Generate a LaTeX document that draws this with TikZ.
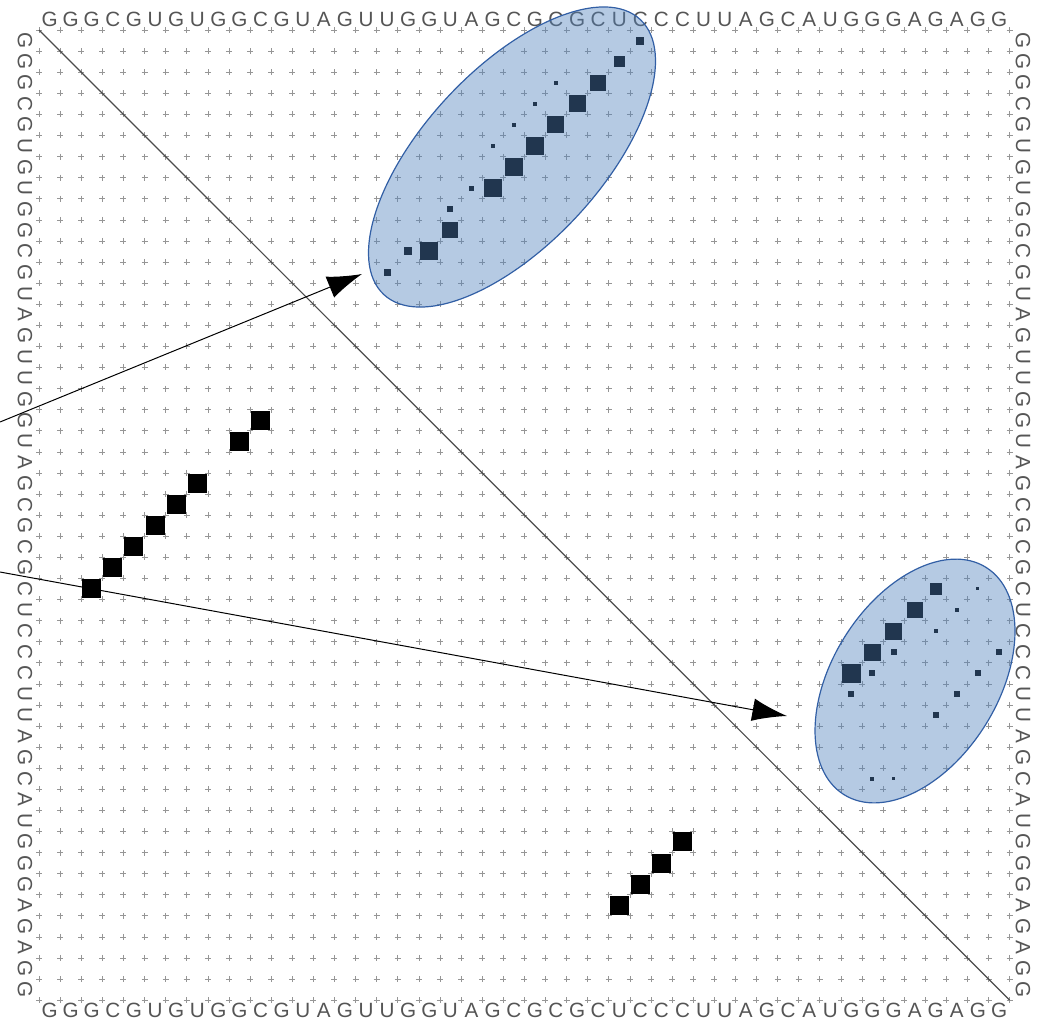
\documentclass[tikz,border=0pt]{standalone}
\usepackage{fontspec}
\newfontfamily\seqfont{Liberation Sans}
\usetikzlibrary{shapes.geometric,arrows.meta}
\definecolor{ellfill}{RGB}{79,129,189}
\definecolor{elldraw}{RGB}{50,95,165}
\definecolor{crossgray}{RGB}{150,150,150}
\definecolor{seqgray}{RGB}{85,85,85}
\newcommand\dsq[3]{\fill[dotsq] ({39+21.1*(#1+0.5)-#3/2},{30+21.09*(#2+0.5)-#3/2}) rectangle ++(#3,#3);}
\begin{document}
\begin{tikzpicture}[x=0.75pt,y=-0.75pt,
  seqlabel/.style={font=\seqfont\fontsize{15.5}{16}\selectfont, text=seqgray, inner sep=0pt},
  crossmark/.style={draw=crossgray, line width=0.45pt},
  dotsq/.style={fill=black, draw=none},
  hilite/.style={ellipse, draw=elldraw, line width=0.9pt, fill=ellfill, fill opacity=0.42, draw opacity=1, inner sep=0pt},
  pointer/.style={draw=black, line width=0.75pt, -{Latex[length=26pt,width=17pt]}},
  diagline/.style={draw=gray!60!black, line width=0.9pt}
]
\useasboundingbox (0,0) rectangle (1038,1021);
\def\seq{G,G,G,C,G,U,G,U,G,G,C,G,U,A,G,U,U,G,G,U,A,G,C,G,C,G,C,U,C,C,C,U,U,A,G,C,A,U,G,G,G,A,G,A,G,G}
% grid crosses
\foreach \k in {0,...,46}{
  \foreach \l in {0,...,46}{
    \draw[crossmark] ({39+21.1*\k-3},{30+21.09*\l}) -- ++(6,0)
                     ({39+21.1*\k},{30+21.09*\l-3}) -- ++(0,6);
  }
}
% sequence labels
\foreach \b [count=\n from 0] in \seq {
  \node[seqlabel] (t\n) at ({39+21.1*(\n+0.5)},19) {\b};
  \node[seqlabel] (b\n) at ({39+21.1*(\n+0.5)},1010) {\b};
  \node[seqlabel, rotate=-90] (l\n) at (25,{30+21.09*(\n+0.5)}) {\b};
  \node[seqlabel, rotate=-90] (r\n) at (1023,{30+21.09*(\n+0.5)}) {\b};
}
% diagonal
\coordinate (c0) at (39,30);
\coordinate (c1) at (1009.6,1000.1);
\draw[diagline] (c0) -- (c1);
% MFE structure (lower left)
\foreach \c/\r in {2/26,3/25,4/24,5/23,6/22,7/21,9/19,10/18,27/41,28/40,29/39,30/38}{
  \dsq{\c}{\r}{19}
}
% base pair probabilities (upper right)
\foreach \c/\r/\s in {18/10/18,19/9/16,21/7/18,22/6/18,23/5/18,24/4/17,25/3/17,26/2/16,27/1/11,28/0/8,
  16/11/7,17/10/8,19/8/6,20/7/5,21/5/4,22/4/4,23/3/4,24/2/4,
  42/26/12,41/27/16,40/28/17,39/29/17,38/30/19,
  44/26/3,43/27/4,42/28/4,40/29/6,45/29/6,39/30/6,44/30/6,38/31/6,43/31/6,42/32/6,39/35/4,40/35/3}{
  \dsq{\c}{\r}{\s}
}
% highlight ellipses
\node[hilite, minimum width=282pt, minimum height=132pt, rotate=47] (ellA) at (512,157) {};
\node[hilite, minimum width=201pt, minimum height=124.5pt, rotate=58] (ellB) at (915,681) {};
% arrows
\coordinate (s1) at (0,422);
\coordinate (e1) at (362,274);
\coordinate (s2) at (0,572);
\coordinate (e2) at (787,716);
\draw[pointer] (s1) -- (e1);
\draw[pointer] (s2) -- (e2);
\end{tikzpicture}
\end{document}
